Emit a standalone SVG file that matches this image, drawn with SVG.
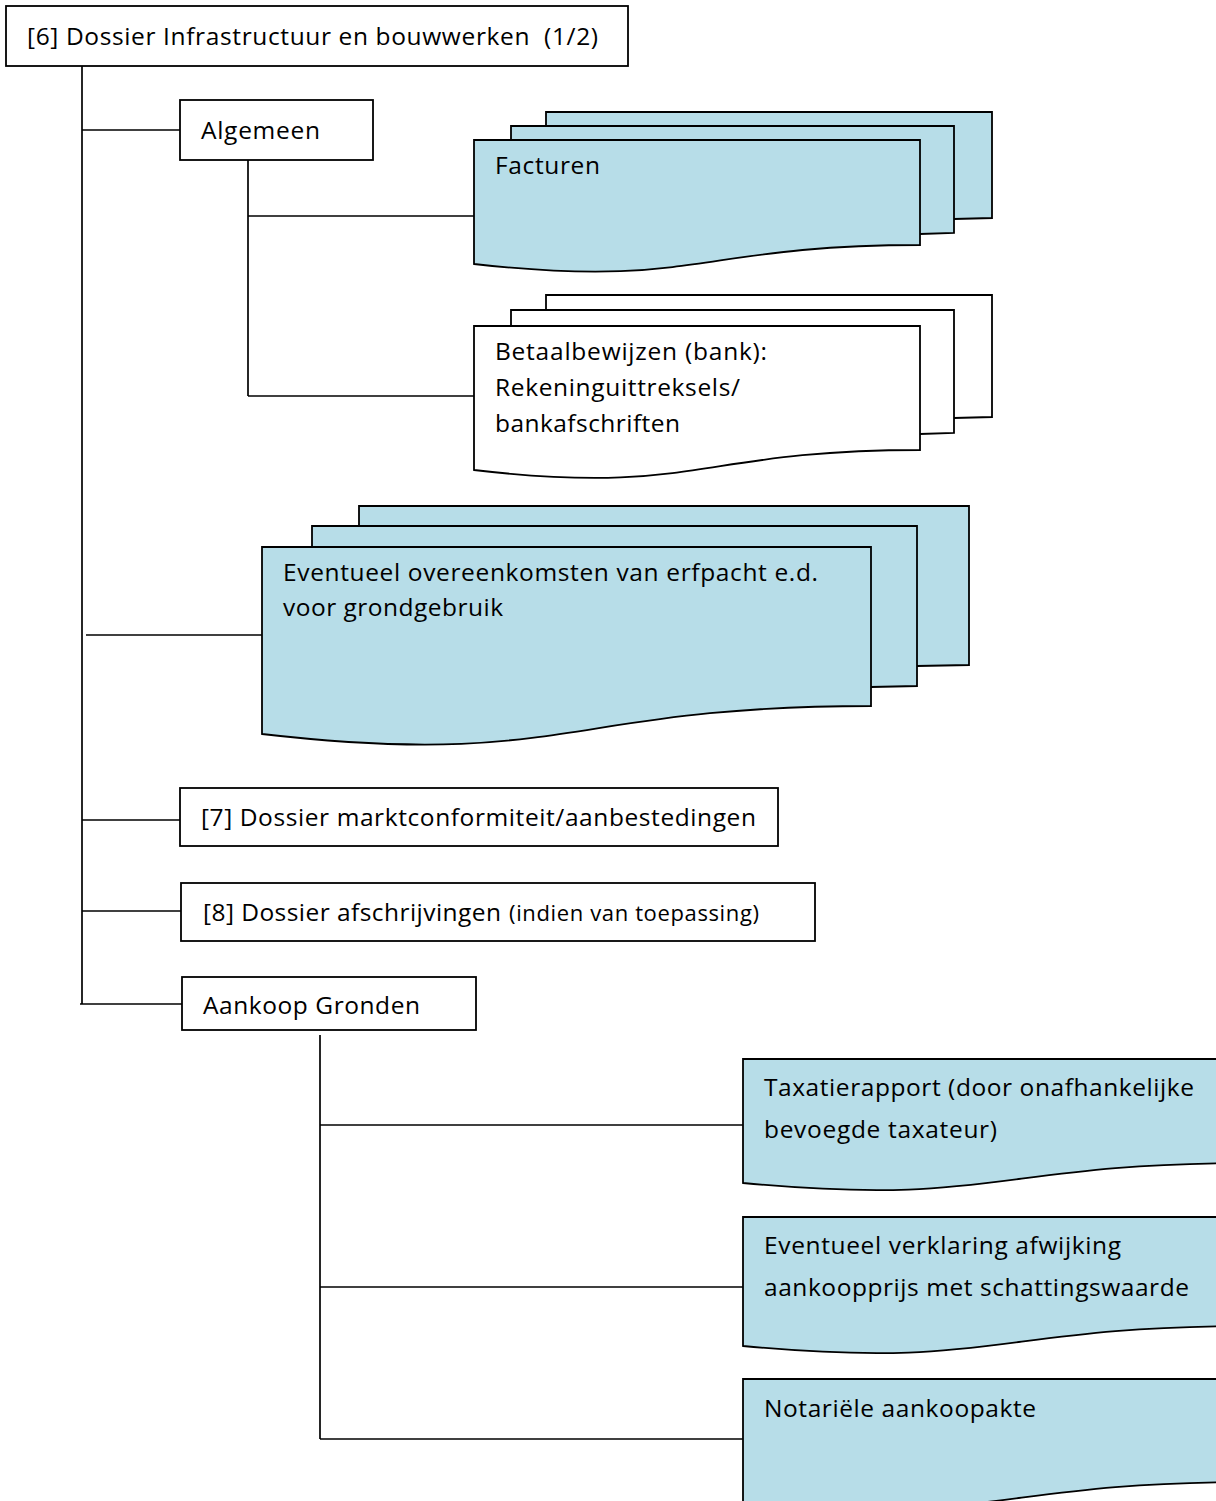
<svg xmlns="http://www.w3.org/2000/svg" width="1216" height="1501" viewBox="0 0 1216 1501">
<style>
.box{fill:#fff;stroke:#000;stroke-width:1.8}
.doc{fill:#b7dde8;stroke:#000;stroke-width:1.8;stroke-linejoin:miter}
.wdoc{fill:#fff;stroke:#000;stroke-width:1.8}
.ln{fill:none;stroke:#000;stroke-width:1.7}
text{font-family:"Open Sans","Liberation Sans",sans-serif;font-size:24.5px;fill:#000}
.sm{font-size:22px}
</style>
<rect width="1216" height="1501" fill="#fff"/>
<g id="connectors">
<path class="ln" d="M82,66 V1004"/>
<path class="ln" d="M82,130 H180"/>
<path class="ln" d="M248,160 V396"/>
<path class="ln" d="M248,216 H474"/>
<path class="ln" d="M248,396 H476"/>
<path class="ln" d="M86,635 H262"/>
<path class="ln" d="M82,820 H180"/>
<path class="ln" d="M82,911 H181"/>
<path class="ln" d="M80,1004 H182"/>
<path class="ln" d="M320,1035 V1439"/>
<path class="ln" d="M320,1125 H743"/>
<path class="ln" d="M320,1287 H743"/>
<path class="ln" d="M320,1439 H743"/>
</g>
<g id="n-title">
<rect class="box" x="6" y="6" width="622" height="60"/>
<text x="27" y="45" textLength="571" xml:space="preserve">[6] Dossier Infrastructuur en bouwwerken  (1/2)</text>
</g>
<g id="n-algemeen">
<rect class="box" x="180" y="100" width="193" height="60"/>
<text x="201" y="139" textLength="119">Algemeen</text>
</g>
<g id="n-facturen">
<path class="doc" d="M546,126 V112 H992 V218 L954,219"/>
<path class="doc" d="M511,140 V126 H954 V233 L920,234"/>
<path class="doc" d="M474,140 H920 V245 C697,245 697,289 474,264 Z"/>
<text x="495" y="174" textLength="105">Facturen</text>
</g>
<g id="n-betaal">
<path class="wdoc" d="M546,310 V295 H992 V417 L954,418"/>
<path class="wdoc" d="M511,326 V310 H954 V433 L920,434"/>
<path class="wdoc" d="M474,326 H920 V450 C697,450 697,496 474,470 Z"/>
<text x="495" y="360" textLength="272">Betaalbewijzen (bank):</text>
<text x="495" y="396" textLength="245">Rekeninguittreksels/</text>
<text x="495" y="432" textLength="185">bankafschriften</text>
</g>
<g id="n-erfpacht">
<path class="doc" d="M359,526 V506 H969 V665 L917,666"/>
<path class="doc" d="M312,547 V526 H917 V686 L871,687"/>
<path class="doc" d="M262,547 H871 V706 C566,706 566,769 262,734 Z"/>
<text x="283" y="581" textLength="535">Eventueel overeenkomsten van erfpacht e.d.</text>
<text x="283" y="616" textLength="220">voor grondgebruik</text>
</g>
<g id="n-markt">
<rect class="box" x="180" y="788" width="598" height="58"/>
<text x="201" y="826" textLength="555">[7] Dossier marktconformiteit/aanbestedingen</text>
</g>
<g id="n-afschr">
<rect class="box" x="181" y="883" width="634" height="58"/>
<text x="203" y="921"><tspan textLength="298">[8] Dossier afschrijvingen</tspan> <tspan class="sm" x="509" textLength="250">(indien van toepassing)</tspan></text>
</g>
<g id="n-aankoop">
<rect class="box" x="182" y="977" width="294" height="53"/>
<text x="203" y="1014" textLength="217">Aankoop Gronden</text>
</g>
<g id="n-taxatie">
<path class="doc" d="M743,1059 H1250 V1163 C996,1163 996,1207 743,1183 Z"/>
<text x="764" y="1096" textLength="430">Taxatierapport (door onafhankelijke</text>
<text x="764" y="1138" textLength="233">bevoegde taxateur)</text>
</g>
<g id="n-verklaring">
<path class="doc" d="M743,1217 H1250 V1326 C996,1326 996,1370 743,1346 Z"/>
<text x="764" y="1254" textLength="357">Eventueel verklaring afwijking</text>
<text x="764" y="1296" textLength="425">aankoopprijs met schattingswaarde</text>
</g>
<g id="n-notarieel">
<path class="doc" d="M743,1379 H1250 V1482 C996,1482 996,1526 743,1502 Z"/>
<text x="764" y="1417" textLength="272">Notariële aankoopakte</text>
</g>
</svg>
